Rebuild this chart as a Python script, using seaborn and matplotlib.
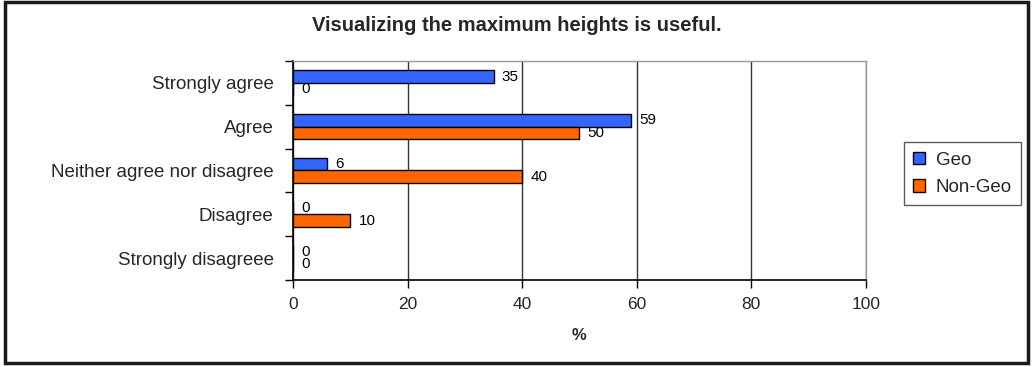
import matplotlib
matplotlib.use("Agg")
import matplotlib.pyplot as plt
import seaborn as sns
import pandas as pd
from matplotlib.patches import Rectangle
from matplotlib.ticker import FixedLocator

# Survey responses (% of respondents)
categories = ["Strongly agree", "Agree", "Neither agree nor disagree",
              "Disagree", "Strongly disagreee"]
geo = [35, 59, 6, 0, 0]
non_geo = [0, 50, 40, 10, 0]
series = ["Geo", "Non-Geo"]
x_ticks = [0, 20, 40, 60, 80, 100]

df = pd.DataFrame({
    "Response": categories * 2,
    "Percent": geo + non_geo,
    "Group": [series[0]] * len(categories) + [series[1]] * len(categories),
})

sns.set_theme(style="white")
plt.rcParams["font.family"] = ["Liberation Sans", "DejaVu Sans"]

fig = plt.figure(figsize=(10.33, 3.67), dpi=100)
ax = fig.add_axes([0.2836, 0.2371, 0.8383 - 0.2836, 0.8338 - 0.2371])

sns.barplot(data=df, y="Response", x="Percent", hue="Group", order=categories,
            hue_order=series, palette=["#3366FF", "#FF6600"], saturation=1,
            orient="h", width=0.58, edgecolor="black", linewidth=1.0, ax=ax,
            legend=True)

for cont in ax.containers:
    ax.bar_label(cont, labels=[f"{v:g}" for v in cont.datavalues],
                 padding=6, fontsize=11, color="black")

ax.set_xlim(0, 100)
ax.set_ylim(len(categories) - 0.5, -0.5)
ax.xaxis.set_major_locator(FixedLocator(x_ticks))
ax.set_xticklabels([str(t) for t in x_ticks], fontsize=12.5)
ax.set_xlabel("%", fontsize=12, fontweight="bold", labelpad=12)
ax.set_ylabel("")
ax.tick_params(axis="y", which="major", length=0, labelsize=13.5, pad=14)
ax.yaxis.set_minor_locator(FixedLocator([i - 0.5 for i in range(len(categories) + 1)]))
ax.tick_params(axis="y", which="minor", length=6, width=1, color="black", left=True)
ax.tick_params(axis="x", which="major", length=6, width=1, color="black",
               bottom=True, pad=6)

ax.grid(axis="x", color="#333333", linewidth=1.0)
ax.grid(axis="y", visible=False)
ax.set_axisbelow(True)
for side in ["left", "bottom"]:
    ax.spines[side].set_color("black")
    ax.spines[side].set_linewidth(1.2)
for side in ["top", "right"]:
    ax.spines[side].set_color("#999999")
    ax.spines[side].set_linewidth(1.0)

leg = ax.legend(loc="center left", bbox_to_anchor=(1.066, 0.485), frameon=True,
                fontsize=13.5, handlelength=0.65, handleheight=0.65,
                handletextpad=0.55, borderpad=0.5, labelspacing=0.55,
                borderaxespad=0, fancybox=False)
leg.get_frame().set_edgecolor("#333333")
leg.get_frame().set_linewidth(1.0)
for h in leg.legend_handles:
    h.set_edgecolor("black")
    h.set_linewidth(1.0)

fig.text(0.5, 0.93, "Visualizing the maximum heights is useful.",
         ha="center", va="center", fontsize=14.5, fontweight="bold")

# Outer chart border
fig.patches.append(Rectangle((5 / 1033, 1 - 363 / 367), 1023 / 1033, 361 / 367,
                             transform=fig.transFigure, fill=False,
                             edgecolor="#1a1a1a", linewidth=2.5))

fig.savefig("out.png", dpi=100)
